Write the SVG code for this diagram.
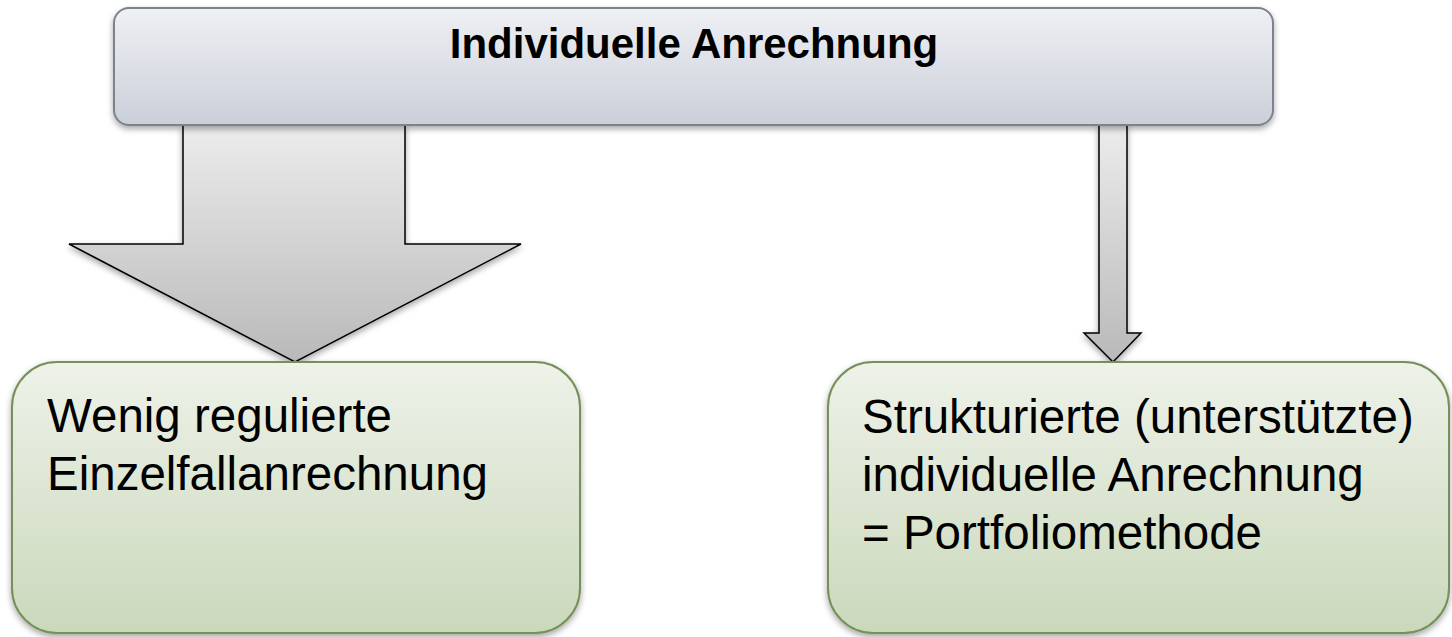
<svg xmlns="http://www.w3.org/2000/svg" width="1452" height="637" viewBox="0 0 1452 637">
<defs>
<linearGradient id="gTop" x1="0" y1="0" x2="0" y2="1"><stop offset="0" stop-color="#eef0f4"/><stop offset="1" stop-color="#cbcfd8"/></linearGradient>
<linearGradient id="gGreen" x1="0" y1="0" x2="0" y2="1"><stop offset="0" stop-color="#eef2e9"/><stop offset="1" stop-color="#cad8bb"/></linearGradient>
<linearGradient id="gArrow" x1="0" y1="0" x2="0" y2="1"><stop offset="0" stop-color="#ececec"/><stop offset="1" stop-color="#b9b9b9"/></linearGradient>
<filter id="sh" x="-10%" y="-10%" width="120%" height="130%"><feDropShadow dx="0" dy="3" stdDeviation="3" flood-color="#000" flood-opacity="0.35"/></filter>
<style>
.top{fill:url(#gTop);stroke:#7d838d;stroke-width:2;filter:url(#sh)}
.green{fill:url(#gGreen);stroke:#76905a;stroke-width:2;filter:url(#sh)}
.arr{fill:url(#gArrow);stroke:#000;stroke-width:1.5;stroke-linejoin:miter;filter:url(#sh)}
.t{font-family:"Liberation Sans",Arial,sans-serif;fill:#000}
.title{font-size:42px;font-weight:bold}
.body{font-size:47.5px}
</style>
</defs>
<g id="connectors">
<path class="arr" d="M183,125 L405,125 L405,244 L521,244 L295,362 L69,244 L183,244 Z"/>
<path class="arr" d="M1099,125 L1127,125 L1127,333 L1141,333 L1113,362 L1084,333 L1099,333 Z"/>
</g>
<g id="node-top">
<rect class="top" x="114" y="8" width="1159" height="117" rx="15"/>
<text class="t title" x="694" y="58" text-anchor="middle">Individuelle Anrechnung</text>
</g>
<g id="node-left">
<rect class="green" x="12" y="362" width="568" height="271" rx="45"/>
<text class="t body" x="47" y="432">Wenig regulierte</text>
<text class="t body" x="47" y="490">Einzelfallanrechnung</text>
</g>
<g id="node-right">
<rect class="green" x="828" y="362" width="621" height="271" rx="45"/>
<text class="t body" x="862" y="433">Strukturierte (unterstützte)</text>
<text class="t body" x="862" y="491">individuelle Anrechnung</text>
<text class="t body" x="862" y="549">= Portfoliomethode</text>
</g>
</svg>
